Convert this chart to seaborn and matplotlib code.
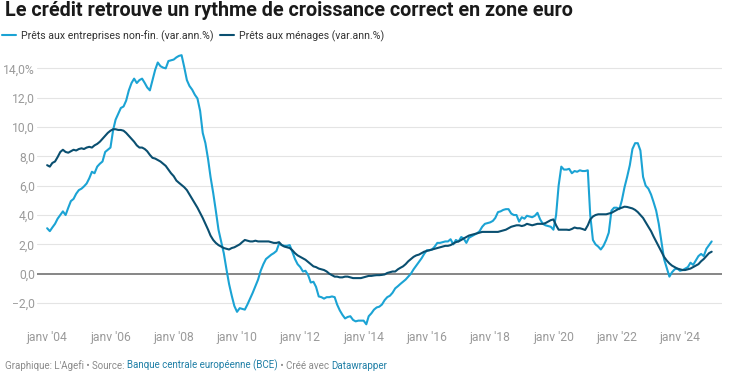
import pandas as pd
import matplotlib.pyplot as plt
import seaborn as sns

# Croissance annuelle des prêts en zone euro (%), données mensuelles janv 2004 - janv 2025
mois = pd.date_range('2004-01-01', '2025-01-01', freq='MS')

entreprises = [
    3.1, 2.9, 3.15, 3.4, 3.75, 4.0, 4.25, 4.0, 4.5, 4.95, 5.1, 5.45,          # 2004
    5.7, 5.8, 5.95, 6.15, 6.5, 6.95, 6.85, 7.3, 7.5, 7.65, 8.3, 8.45,         # 2005
    8.6, 9.8, 10.5, 10.9, 11.3, 11.4, 11.8, 12.5, 13.0, 13.3, 13.0, 13.2,     # 2006
    13.3, 13.0, 12.7, 12.5, 13.2, 13.9, 14.4, 14.15, 14.05, 14.0, 14.5, 14.55,  # 2007
    14.6, 14.75, 14.85, 14.9, 14.1, 13.2, 12.8, 12.55, 12.2, 11.95, 11.1, 9.6,  # 2008
    8.9, 7.8, 6.6, 5.5, 4.3, 3.0, 2.2, 1.4, 0.3, -0.7, -1.5, -2.2,            # 2009
    -2.6, -2.35, -2.4, -2.45, -2.1, -1.7, -1.3, -0.85, -0.4, 0.2, 0.65, 1.0,  # 2010
    1.15, 1.3, 1.4, 1.55, 2.05, 1.95, 1.9, 1.9, 1.95, 1.5, 1.0, 0.65,         # 2011
    0.45, 0.15, 0.2, -0.1, -0.6, -0.55, -0.9, -1.55, -1.6, -1.7, -1.6, -1.6,  # 2012
    -1.55, -1.6, -2.1, -2.5, -2.8, -3.05, -2.95, -2.9, -3.15, -3.25, -3.2, -3.2,  # 2013
    -3.2, -3.45, -2.9, -2.7, -2.45, -2.3, -2.25, -2.1, -1.8, -1.6, -1.5, -1.3,    # 2014
    -1.0, -0.85, -0.7, -0.55, -0.4, -0.2, 0.0, 0.3, 0.55, 0.8, 1.05, 1.35,    # 2015
    1.6, 1.6, 1.65, 1.85, 2.1, 2.1, 2.15, 2.2, 2.2, 2.35, 2.0, 2.3,           # 2016
    2.2, 2.5, 2.4, 2.1, 2.45, 2.55, 2.65, 2.75, 2.9, 3.2, 3.4, 3.45,          # 2017
    3.5, 3.6, 3.8, 4.2, 4.25, 4.35, 4.4, 4.4, 4.1, 4.0, 4.0, 3.55,            # 2018
    3.85, 3.75, 3.95, 3.9, 3.85, 3.95, 4.15, 3.7, 3.4, 3.3, 3.25, 3.2,        # 2019
    3.0, 4.0, 6.0, 7.3, 7.1, 7.1, 7.15, 6.85, 7.0, 6.95, 7.05, 7.0,           # 2020
    7.0, 7.05, 4.0, 2.3, 2.0, 1.85, 1.65, 1.9, 2.3, 2.8, 4.3, 4.5,            # 2021
    4.5, 4.4, 5.0, 5.9, 6.6, 7.4, 8.5, 8.9, 8.9, 8.4, 6.6, 6.0,               # 2022
    5.8, 5.4, 4.9, 4.3, 3.4, 2.2, 1.0, 0.4, -0.2, 0.1, 0.3, 0.35,             # 2023
    0.2, 0.25, 0.35, 0.45, 0.75, 0.6, 0.9, 1.2, 1.35, 1.2, 1.7, 1.95,         # 2024
    2.2,                                                                      # 2025
]

menages = [
    7.4, 7.3, 7.55, 7.65, 7.95, 8.3, 8.45, 8.3, 8.25, 8.35, 8.45, 8.4,        # 2004
    8.5, 8.55, 8.5, 8.6, 8.65, 8.6, 8.75, 8.85, 9.0, 9.2, 9.4, 9.6,           # 2005
    9.75, 9.85, 9.85, 9.8, 9.8, 9.75, 9.6, 9.4, 9.2, 9.0, 8.75, 8.6,          # 2006
    8.6, 8.5, 8.35, 8.1, 7.9, 7.85, 7.75, 7.65, 7.5, 7.35, 7.1, 6.85,         # 2007
    6.65, 6.35, 6.2, 6.05, 5.9, 5.7, 5.4, 5.1, 4.8, 4.5, 4.15, 3.8,           # 2008
    3.4, 3.0, 2.6, 2.3, 2.1, 1.95, 1.85, 1.75, 1.7, 1.65, 1.75, 1.8,          # 2009
    1.9, 2.0, 2.15, 2.3, 2.25, 2.2, 2.2, 2.25, 2.2, 2.2, 2.2, 2.2,            # 2010
    2.2, 2.15, 2.1, 2.1, 2.15, 1.95, 1.85, 1.8, 1.75, 1.6, 1.4, 1.25,         # 2011
    1.15, 1.05, 0.95, 0.8, 0.65, 0.5, 0.45, 0.35, 0.3, 0.25, 0.15, 0.0,       # 2012
    -0.1, -0.2, -0.2, -0.25, -0.25, -0.2, -0.2, -0.25, -0.3, -0.3, -0.3, -0.3,  # 2013
    -0.25, -0.2, -0.15, -0.15, -0.12, -0.1, -0.1, -0.08, -0.05, 0.05, 0.1, 0.15,  # 2014
    0.15, 0.3, 0.4, 0.5, 0.65, 0.85, 1.0, 1.15, 1.25, 1.3, 1.4, 1.5,          # 2015
    1.55, 1.6, 1.65, 1.7, 1.75, 1.8, 1.85, 1.9, 1.9, 1.95, 2.05, 2.15,        # 2016
    2.2, 2.3, 2.4, 2.5, 2.6, 2.65, 2.7, 2.75, 2.8, 2.85, 2.85, 2.85,          # 2017
    2.85, 2.85, 2.85, 2.85, 2.9, 2.95, 3.0, 3.1, 3.2, 3.25, 3.3, 3.3,         # 2018
    3.25, 3.3, 3.4, 3.35, 3.3, 3.35, 3.4, 3.4, 3.4, 3.45, 3.55, 3.65,         # 2019
    3.7, 3.3, 3.0, 3.0, 3.0, 3.0, 2.98, 3.05, 3.15, 3.1, 3.1, 3.05,           # 2020
    2.98, 3.3, 3.7, 3.9, 4.0, 4.05, 4.05, 4.05, 4.05, 4.1, 4.15, 4.25,        # 2021
    4.35, 4.45, 4.5, 4.57, 4.55, 4.5, 4.45, 4.35, 4.2, 4.0, 3.8, 3.5,         # 2022
    3.2, 2.9, 2.55, 2.2, 1.85, 1.5, 1.15, 0.9, 0.7, 0.55, 0.45, 0.35,         # 2023
    0.3, 0.25, 0.25, 0.3, 0.35, 0.45, 0.55, 0.65, 0.85, 1.0, 1.2, 1.4,        # 2024
    1.5,                                                                      # 2025
]

annees_ticks = list(range(2004, 2025, 2))
labels_x = ["janv '%02d" % (a % 100) for a in annees_ticks]
valeurs_y = [-2, 0, 2, 4, 6, 8, 10, 12, 14]
labels_y = ['\u22122,0', '0,0', '2,0', '4,0', '6,0', '8,0', '10,0', '12,0', '14,0%']

nom_ent = 'Prêts aux entreprises non-fin. (var.ann.%)'
nom_men = 'Prêts aux ménages (var.ann.%)'

CLAIR = '#1ba3d4'
FONCE = '#0a4f70'
GRIS = '#9a9a9a'

sns.set_style('white')
plt.rcParams['font.family'] = ['Roboto', 'DejaVu Sans']

df = pd.DataFrame({'date': mois, 'entreprises': entreprises, 'menages': menages})

fig = plt.figure(figsize=(7.35, 3.76), dpi=100)
ax = fig.add_axes([37 / 735, 1 - 326.5 / 376, 685 / 735, (326.5 - 53.7) / 376])

# grille horizontale
for v in valeurs_y:
    if v == 0:
        ax.axhline(v, color='#7d7d7d', lw=1.3, zorder=1)
    else:
        ax.axhline(v, color='#e4e4e4', lw=0.8, zorder=0)

sns.lineplot(data=df, x='date', y='entreprises', color=CLAIR, lw=1.5, ax=ax, label=nom_ent, zorder=3)
sns.lineplot(data=df, x='date', y='menages', color=FONCE, lw=1.5, ax=ax, label=nom_men, zorder=4)

ax.set_ylim(-3.6, 15.0)
ax.set_xlim(pd.Timestamp('2003-09-06'), pd.Timestamp('2025-04-30'))
ax.set_yticks(valeurs_y)
ax.set_yticklabels(labels_y)
ax.set_xticks([pd.Timestamp('%d-01-01' % a) for a in annees_ticks])
ax.set_xticklabels(labels_x)
ax.tick_params(axis='y', length=0, pad=1.5, labelcolor=GRIS, labelsize=8.7)
ax.tick_params(axis='x', length=0, pad=3.0, labelcolor=GRIS, labelsize=8.7)
ax.set_xlabel('')
ax.set_ylabel('')
for s in ax.spines.values():
    s.set_visible(False)

# légende en haut
handles, labels = ax.get_legend_handles_labels()
ax.get_legend().remove()
fig.legend(handles, labels, loc='center left', bbox_to_anchor=(2 / 735, 1 - 36 / 376),
           ncol=2, frameon=False, fontsize=7.6, handlelength=1.3, handletextpad=0.5,
           columnspacing=0.6, borderaxespad=0, borderpad=0, labelcolor='#333333')

# titre
fig.text(5 / 735, 1 - 16 / 376, 'Le crédit retrouve un rythme de croissance correct en zone euro',
         fontsize=14.2, fontweight='bold', va='baseline', color='#1a1a1a')

# source, morceaux enchaînés
morceaux = [("Graphique: L'Agefi \u2022 Source: ", '#8a8a8a'),
            ('Banque centrale européenne (BCE)', '#1f7fa6'),
            (' \u2022 Créé avec ', '#8a8a8a'),
            ('Datawrapper', '#1f7fa6')]
prec = fig.text(5 / 735, 1 - 371 / 376, morceaux[0][0], fontsize=7, color=morceaux[0][1], va='bottom')
for txt, col in morceaux[1:]:
    prec = ax.annotate(txt, xy=(1, 0), xycoords=prec, fontsize=7, color=col,
                       va='bottom', ha='left', annotation_clip=False)

fig.savefig('out.png', dpi=100, facecolor='white')
